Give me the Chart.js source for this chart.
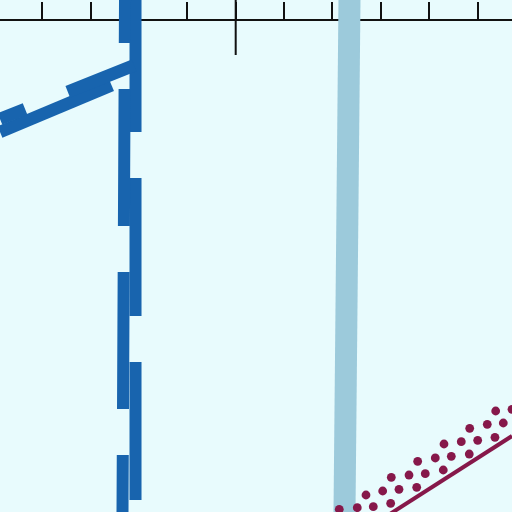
<!DOCTYPE html>
<html>

<head>
    <meta charset="utf-8">
    <title>Sketch chart</title>
    <script src="https://cdn.jsdelivr.net/npm/chart.js@4.4.1/dist/chart.umd.min.js"></script>
    <style>
        body { margin: 0; background: #e8fbfd; }
        canvas { display: block; }
    </style>
</head>

<body>
    <canvas id="myChart" width="512" height="512"></canvas>
    <script>
        // tick positions on the top axis
        const tickValues = [-4, -3, -2, -1, 0, 1, 2, 3, 4, 5];

        // long marker at zero
        const zeroMarkX = [0, 0];
        const zeroMarkY = [10.58, 9.44];

        // dark blue line, drawn as two offset strokes
        const blueVertAX = [-2.287, -2.339];
        const blueVertAY = [10.58, 0];
        const blueVertBX = [-2.070, -2.070];
        const blueVertBY = [10.58, 0];
        const blueDiagCX = [-4.870, -2.101];
        const blueDiagCY = [8.120, 9.227];
        const blueDiagDX = [-4.870, -2.101];
        const blueDiagDY = [7.851, 9.014];

        // light blue line
        const lightX = [2.351, 2.248];
        const lightY = [10.58, 0];

        // maroon line
        const maroonX = [3.188, 5.709];
        const maroonY = [-0.041, 1.570];

        // maroon dots
        const dotsX = [2.140, 2.692, 3.215, 3.760, 4.304, 4.835, 5.372,
                       2.512, 3.037, 3.581, 4.124, 4.661, 5.198, 5.709,
                       2.843, 3.374, 3.917, 4.455, 5.000, 5.529,
                       3.202, 3.740, 4.289, 4.826, 5.357];
        const dotsY = [0.056, 0.351, 0.717, 1.048, 1.405, 1.729, 2.087,
                       0.089, 0.434, 0.764, 1.116, 1.452, 1.812, 2.122,
                       0.110, 0.469, 0.791, 1.151, 1.481, 1.839,
                       0.180, 0.510, 0.868, 1.198, 1.543];

        const blue = '#1864ae';
        const maroon = '#86184a';

        function pts(xs, ys) {
            return xs.map((x, i) => ({x: x, y: ys[i]}));
        }

        function stroke(xs, ys, color, width, dash, offset) {
            return {
                data: pts(xs, ys),
                borderColor: color,
                borderWidth: width,
                borderDash: dash || [],
                borderDashOffset: offset || 0,
                borderCapStyle: 'butt',
                pointRadius: 0,
                tension: 0,
                fill: false,
                clip: false
            };
        }

        const ctx = document.getElementById('myChart').getContext('2d');
        const myChart = new Chart(ctx, {
            type: 'line',
            data: {
                datasets: [
                    {
                        type: 'scatter',
                        data: pts(dotsX, dotsY),
                        backgroundColor: maroon,
                        borderWidth: 0,
                        pointRadius: 4.4,
                        showLine: false,
                        clip: false
                    },
                    stroke(maroonX, maroonY, maroon, 4),
                    stroke(zeroMarkX, zeroMarkY, '#111', 2),
                    stroke(lightX, lightY, '#9ccadb', 22),
                    stroke(blueDiagCX, blueDiagCY, blue, 12.5, [137, 46], 110),
                    stroke(blueDiagDX, blueDiagDY, blue, 12.5, [137, 46], 16),
                    stroke(blueVertAX, blueVertAY, blue, 12, [137, 46], 94),
                    stroke(blueVertBX, blueVertBY, blue, 12, [138, 46], 6)
                ]
            },
            options: {
                responsive: false,
                animation: false,
                layout: { autoPadding: false, padding: { top: 2, left: 0, right: 0, bottom: 0 } },
                plugins: { legend: { display: false }, tooltip: { enabled: false } },
                scales: {
                    x: {
                        type: 'linear',
                        position: 'top',
                        min: -4.870,
                        max: 5.709,
                        z: 1,
                        afterBuildTicks: scale => {
                            scale.ticks = tickValues.map(v => ({value: v}));
                        },
                        ticks: { display: false },
                        grid: { drawOnChartArea: false, drawTicks: true, tickLength: 18, color: '#111', lineWidth: 2 },
                        border: { display: true, color: '#111', width: 2 }
                    },
                    y: {
                        type: 'linear',
                        display: false,
                        min: 0,
                        max: 10.165
                    }
                }
            }
        });
    </script>
</body>

</html>
